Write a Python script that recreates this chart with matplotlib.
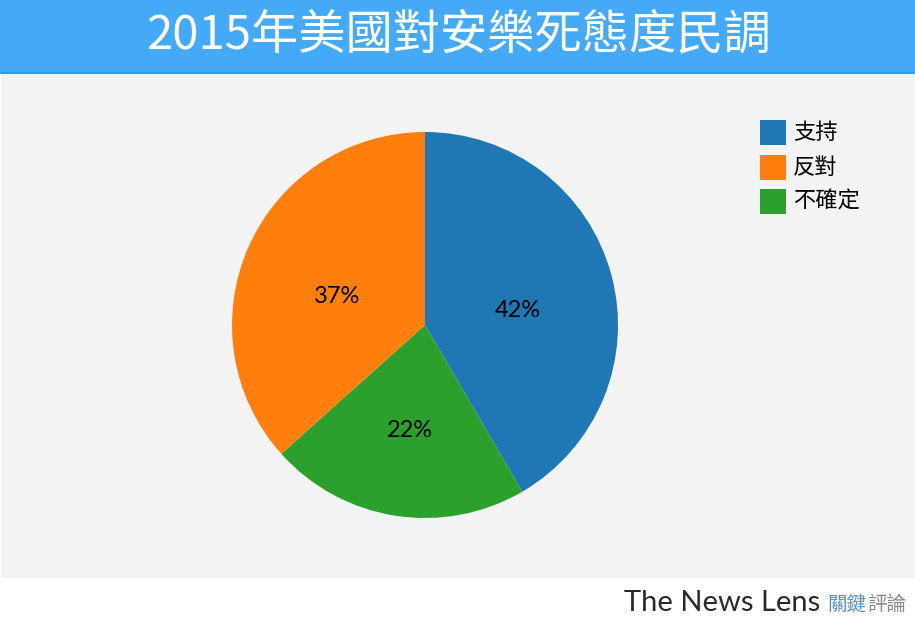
import matplotlib
matplotlib.use("Agg")
import matplotlib.pyplot as plt
import matplotlib.patches as mpatches
import numpy as np

plt.rcParams['font.family'] = ['Noto Sans CJK TC', 'DejaVu Sans']

title = "2015年美國對安樂死態度民調"
slice_labels = ["支持", "不確定", "反對"]
slice_values = [42, 22, 37]
slice_colors = ["#1f77b4", "#2ca02c", "#ff7f0e"]
legend_labels = ["支持", "反對", "不確定"]
legend_colors = ["#1f77b4", "#ff7f0e", "#2ca02c"]

W, H = 915, 622
fig = plt.figure(figsize=(W / 100, H / 100), dpi=100)
fig.patch.set_facecolor("white")

def px_rect(x0, y0, x1, y1, z=-10, **kw):
	# rectangle in pixel coords measured from the top left
	r = mpatches.Rectangle((x0 / W, 1 - y1 / H), (x1 - x0) / W, (y1 - y0) / H,
		transform=fig.transFigure, zorder=z, **kw)
	fig.patches.append(r)

# backgrounds
px_rect(1, 74, W, 578, facecolor="#f3f3f3", edgecolor="none")
px_rect(0, 0, W, 73, facecolor="#44aaf8", edgecolor="none")
px_rect(0, 72, W, 74, facecolor="#2f9be8", edgecolor="none")

fig.text(458 / W, 1 - 36 / H, title, color="white", fontsize=34,
	ha="center", va="center")

# pie
cx, cy, rad = 425, 325, 193
half = 205
ax = fig.add_axes([(cx - half) / W, 1 - (cy + half) / H, 2 * half / W, 2 * half / H])
ax.patch.set_visible(False)
wedges, _ = ax.pie(slice_values, colors=slice_colors, startangle=90,
	counterclock=False, radius=1, wedgeprops={"linewidth": 0})
ax.set_xlim(-half / rad, half / rad)
ax.set_ylim(-half / rad, half / rad)
ax.axis("off")

for w, v in zip(wedges, slice_values):
	mid = np.deg2rad((w.theta1 + w.theta2) / 2)
	d = 0.5
	ax.text(d * np.cos(mid), d * np.sin(mid), "%d%%" % v, fontsize=17,
		ha="center", va="top", color="black",
		family=["Lato", "DejaVu Sans"])

# legend
for i, (lab, col) in enumerate(zip(legend_labels, legend_colors)):
	y0 = 120 + i * 34.5
	px_rect(760, y0, 786, y0 + 25, z=1, facecolor=col, edgecolor="none")
	fig.text(793 / W, 1 - (y0 + 12.5) / H, lab, fontsize=16, ha="left",
		va="center", color="black")

# footer logo
fig.text(820 / W, 1 - 603 / H, "The News Lens", fontsize=21, ha="right",
	va="center", color="#2a2a2a", family=["Lato", "DejaVu Sans"])
fig.text(827 / W, 1 - 604 / H, "關鍵", fontsize=14, ha="left",
	va="center", color="#5b8fc7")
fig.text(867 / W, 1 - 604 / H, "評論", fontsize=14, ha="left",
	va="center", color="#888888")

fig.savefig("out.png", dpi=100)
